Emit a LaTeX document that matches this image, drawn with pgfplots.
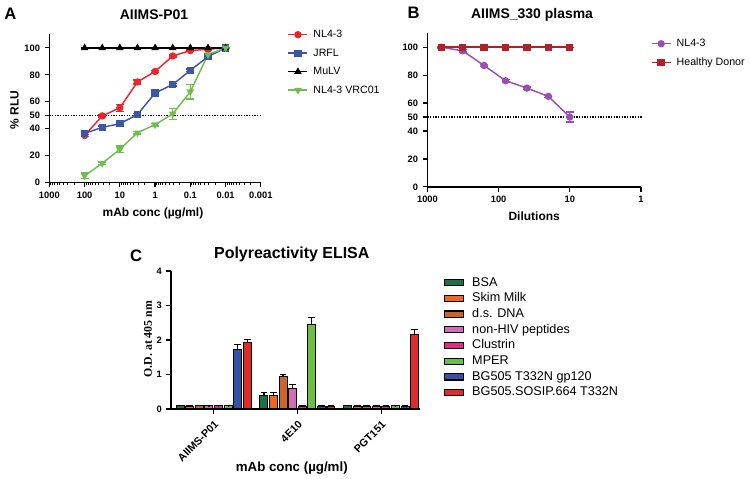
\documentclass[border=0pt]{standalone}
\usepackage{fontspec}
\setmainfont{Liberation Sans}
\newfontfamily\timesfont{Liberation Serif}
\usepackage{pgfplots}
\pgfplotsset{compat=1.18}

\definecolor{cRed}{HTML}{E8262C}
\definecolor{cBlue}{HTML}{3A57A7}
\definecolor{cGreen}{HTML}{6DBE4B}
\definecolor{cPurple}{HTML}{9A4EB0}
\definecolor{cDarkRed}{HTML}{B22028}
% bar colours
\definecolor{bBSA}{HTML}{1E7048}
\definecolor{bSkim}{HTML}{F26522}
\definecolor{bDNA}{HTML}{C8662C}
\definecolor{bPep}{HTML}{D36BB8}
\definecolor{bClu}{HTML}{E62A8A}
\definecolor{bMPER}{HTML}{6CBF45}
\definecolor{bGp}{HTML}{3453A4}
\definecolor{bSOS}{HTML}{E02B2B}

\pgfplotsset{
  panel/.style={
    scale only axis, anchor=south west, clip=false,
    axis x line=bottom, axis y line=left,
    axis line style={black, line width=1.1pt},
    x axis line style={-}, y axis line style={-},
    tick align=outside,
    every tick/.append style={black, line width=0.9pt},
    major tick length=3.5pt, minor tick length=2pt,
    /pgf/number format/assume math mode=true,
    tick label style={font=\fontsize{7}{8}\selectfont\bfseries},
    label style={font=\fontsize{9}{10}\selectfont\bfseries},
    legend cell align=left,
  },
  lineplot/.style={line width=1.1pt, mark size=2.2pt, mark options={solid},
    error bars/y dir=both, error bars/y explicit,
    error bars/error bar style={line width=1pt},
    error bars/error mark options={rotate=90, line width=1pt, mark size=3pt}},
}
% axis frame (left + bottom), drawn after the axis is finished
\newcommand\frameLB{\draw[black, line width=1.1pt] (axis description cs:0,1) -- (axis description cs:0,0) -- (axis description cs:1,0);}

\begin{document}
\begin{tikzpicture}
\path (0pt,0pt) rectangle (562.5pt,-358.5pt);

% ---------- A ----------
\begin{axis}[panel,
  at={(36pt,-137.25pt)}, width=159pt, height=111.375pt,
  xmode=log, x dir=reverse, xmin=0.001, xmax=1000, ymin=0, ymax=110,
  xtick={1000,100,10,1,0.1,0.01,0.001},
  xticklabels={1000,100,10,1,0.1,0.01,0.001},
  ytick={0,20,40,50,60,80,100},
  xlabel={mAb conc (µg/ml)}, ylabel={\% RLU},
  xlabel style={at={(axis description cs:0.49,-0.209)}, anchor=center},
  ylabel style={at={(axis description cs:-0.165,0.49)}, anchor=center},
  title={AIIMS-P01},
  every axis title/.style={at={(axis description cs:0.495,1.131)}, anchor=center, font=\fontsize{10.5}{12}\selectfont\bfseries},
  legend style={draw=none, fill=none, at={(axis description cs:1.107,1.064)}, anchor=north west,
    font=\fontsize{8}{9}\selectfont, row sep=3.6pt,
    nodes={text height=6.5pt, text depth=1.8pt, inner sep=1pt},
    /tikz/every odd column/.append style={column sep=3pt}},
  legend image code/.code={\draw[mark repeat=2,mark phase=2,#1] plot coordinates {(0cm,0cm) (0.25cm,0cm) (0.5cm,0cm)};},
  after end axis/.code={
    \frameLB
    \pgfplotsinvokeforeach{1000,100,10,1,0.1,0.01,0.001}{\draw[black, line width=0.9pt] (axis cs:##1,0) -- ++(0pt,-3.5pt);}
    \pgfplotsinvokeforeach{0.002,0.003,0.004,0.005,0.006,0.007,0.008,0.009,
      0.02,0.03,0.04,0.05,0.06,0.07,0.08,0.09,0.2,0.3,0.4,0.5,0.6,0.7,0.8,0.9,
      2,3,4,5,6,7,8,9,20,30,40,50,60,70,80,90,200,300,400,500,600,700,800,900}{\draw[black, line width=0.7pt] (axis cs:##1,0) -- ++(0pt,-2pt);}
    \pgfplotsinvokeforeach{0,20,40,50,60,80,100}{\draw[black, line width=0.9pt] (axis cs:1000,##1) -- ++(-3.5pt,0pt);}
  },
]
\addplot[black, densely dotted, line width=1pt, forget plot] coordinates {(1000,50) (0.001,50)};
\addplot[lineplot, cRed, mark=*] coordinates {
  (100,35) +- (0,0.8) (31.6,49.5) +- (0,0.8) (10,55.5) +- (0,2.5) (3.16,74.7) +- (0,1.5)
  (1,82.5) +- (0,0.8) (0.316,94) +- (0,0.8) (0.1,98) +- (0,0.5) (0.0316,99) +- (0,0.5) (0.01,100) +- (0,0.5)};
\addlegendentry{NL4-3}
\addplot[lineplot, cBlue, mark=square*] coordinates {
  (100,36.5) +- (0,1) (31.6,41) +- (0,1) (10,43.7) +- (0,1) (3.16,50.5) +- (0,1)
  (1,66.5) +- (0,1) (0.316,72.8) +- (0,1) (0.1,83.3) +- (0,1) (0.0316,93.5) +- (0,1) (0.01,100) +- (0,0.5)};
\addlegendentry{JRFL}
\addplot[lineplot, black, mark=triangle*] coordinates {
  (100,100) +- (0,0) (31.6,100) +- (0,0) (10,100) +- (0,0) (3.16,100) +- (0,0)
  (1,100) +- (0,0) (0.316,100) +- (0,0) (0.1,100) +- (0,0) (0.0316,100) +- (0,0) (0.01,100) +- (0,0)};
\addlegendentry{MuLV}
\addplot[lineplot, cGreen, mark=triangle*, mark options={rotate=180}] coordinates {
  (100,5) +- (0,2) (31.6,14.3) +- (0,1) (10,24.7) +- (0,2.5) (3.16,37) +- (0,1)
  (1,43) +- (0,1) (0.316,51) +- (0,4) (0.1,67.5) +- (0,5.5) (0.0316,95) +- (0,3) (0.01,100) +- (0,0.5)};
\addlegendentry{NL4-3 VRC01}
\node[font=\fontsize{12.5}{14}\selectfont\bfseries] at (axis description cs:-0.184,1.138) {A};
\end{axis}

% ---------- B ----------
\begin{axis}[panel,
  at={(320.25pt,-140.475pt)}, width=160.5pt, height=115.5pt,
  xmode=log, x dir=reverse, xmin=1, xmax=1000, ymin=0, ymax=110,
  xtick={1000,100,10,1}, xticklabels={1000,100,10,1}, xminorticks=false,
  ytick={0,20,40,50,60,80,100},
  xlabel={Dilutions},
  xlabel style={at={(axis description cs:0.5,-0.193)}, anchor=center},
  title={AIIMS\_330 plasma},
  every axis title/.style={at={(axis description cs:0.49,1.119)}, anchor=center, font=\fontsize{10.5}{12}\selectfont\bfseries},
  legend style={draw=none, fill=none, at={(axis description cs:1.027,0.995)}, anchor=north west,
    font=\fontsize{8}{9}\selectfont, row sep=3.6pt,
    nodes={text height=6.5pt, text depth=1.8pt, inner sep=1pt},
    /tikz/every odd column/.append style={column sep=3pt}},
  legend image code/.code={\draw[mark repeat=2,mark phase=2,#1] plot coordinates {(0cm,0cm) (0.25cm,0cm) (0.5cm,0cm)};},
  after end axis/.code={
    \frameLB
    \pgfplotsinvokeforeach{1000,100,10,1}{\draw[black, line width=0.9pt] (axis cs:##1,0) -- ++(0pt,-3.5pt);}
    \pgfplotsinvokeforeach{0,20,40,50,60,80,100}{\draw[black, line width=0.9pt] (axis cs:1000,##1) -- ++(-3.5pt,0pt);}
  },
]
\addplot[black, densely dotted, line width=1pt, forget plot] coordinates {(1000,50) (0.95,50)};
\addplot[lineplot, cPurple, mark=*] coordinates {
  (640,100) +- (0,0.5) (320,97.4) +- (0,0.8) (160,86.9) +- (0,0.8) (80,76) +- (0,1)
  (40,70.7) +- (0,0.8) (20,64.8) +- (0,0.8) (10,50) +- (0,3.5)};
\addlegendentry{NL4-3}
\addplot[lineplot, cDarkRed, mark=square*] coordinates {
  (640,100) +- (0,0) (320,100) +- (0,0) (160,100) +- (0,0) (80,100) +- (0,0)
  (40,100) +- (0,0) (20,100) +- (0,0) (10,100) +- (0,0)};
\addlegendentry{Healthy Donor}
\node[font=\fontsize{12.5}{14}\selectfont\bfseries] at (axis description cs:-0.065,1.131) {B};
\end{axis}

% ---------- C ----------
\begin{axis}[panel,
  at={(127.5pt,-307.5pt)}, width=187.5pt, height=103.725pt,
  ybar=1.2pt, bar width=6pt,
  xmin=0.49, xmax=3.47, ymin=0, ymax=4,
  xtick={1,2,3}, xticklabels={AIIMS-P01,4E10,PGT151},
  x tick label style={rotate=45, anchor=north east, font=\fontsize{8}{9}\selectfont\bfseries},
  ytick={0,1,2,3,4},
  xlabel={mAb conc (µg/ml)}, ylabel={\timesfont\bfseries O.D. at 405 nm},
  xlabel style={at={(axis description cs:0.484,-0.427)}, anchor=center, font=\fontsize{10}{11}\selectfont\bfseries},
  ylabel style={at={(axis description cs:-0.092,0.506)}, anchor=center, font=\fontsize{8.9}{10}\selectfont},
  title={Polyreactivity ELISA},
  every axis title/.style={at={(axis description cs:0.484,1.121)}, anchor=center, font=\fontsize{12}{13}\selectfont\bfseries},
  every axis plot/.append style={draw=black, line width=0.8pt,
    error bars/y dir=plus, error bars/y explicit,
    error bars/error bar style={black, line width=0.9pt},
    error bars/error mark options={rotate=90, black, line width=0.9pt, mark size=2.5pt}},
  legend style={draw=none, fill=none, at={(axis description cs:1.078,0.99)}, anchor=north west,
    font=\fontsize{9.5}{10}\selectfont, row sep=0.8pt,
    nodes={text height=7pt, text depth=2pt, inner sep=1pt},
    /tikz/every odd column/.append style={column sep=5pt}},
  legend image code/.code={\draw[#1, line width=0.9pt] (0pt,-2.3pt) rectangle (14.2pt,2.3pt);},
  after end axis/.code={
    \frameLB
    \pgfplotsinvokeforeach{1,2,3}{\draw[black, line width=0.9pt] (axis cs:##1,0) -- ++(0pt,-3.5pt);}
    \pgfplotsinvokeforeach{0,1,2,3,4}{\draw[black, line width=0.9pt] (axis cs:0.49,##1) -- ++(-3.5pt,0pt);}
  },
]
\addplot[fill=bBSA] coordinates {(1,0.1) +- (0,0.01) (2,0.39) +- (0,0.08) (3,0.1) +- (0,0.01)};
\addlegendentry{BSA}
\addplot[fill=bSkim] coordinates {(1,0.08) +- (0,0.01) (2,0.4) +- (0,0.07) (3,0.08) +- (0,0.01)};
\addlegendentry{Skim Milk}
\addplot[fill=bDNA] coordinates {(1,0.1) +- (0,0.01) (2,0.93) +- (0,0.06) (3,0.08) +- (0,0.01)};
\addlegendentry{d.s. DNA}
\addplot[fill=bPep] coordinates {(1,0.09) +- (0,0.01) (2,0.6) +- (0,0.11) (3,0.08) +- (0,0.01)};
\addlegendentry{non-HIV peptides}
\addplot[fill=bClu] coordinates {(1,0.09) +- (0,0.01) (2,0.08) +- (0,0.01) (3,0.08) +- (0,0.01)};
\addlegendentry{Clustrin}
\addplot[fill=bMPER] coordinates {(1,0.09) +- (0,0.01) (2,2.46) +- (0,0.19) (3,0.09) +- (0,0.01)};
\addlegendentry{MPER}
\addplot[fill=bGp] coordinates {(1,1.73) +- (0,0.14) (2,0.08) +- (0,0.01) (3,0.08) +- (0,0.01)};
\addlegendentry{BG505 T332N gp120}
\addplot[fill=bSOS] coordinates {(1,1.92) +- (0,0.1) (2,0.08) +- (0,0.01) (3,2.17) +- (0,0.13)};
\addlegendentry{BG505.SOSIP.664 T332N}
\node[font=\fontsize{12.5}{14}\selectfont\bfseries] at (axis description cs:-0.14,1.113) {C};
\end{axis}
\end{tikzpicture}
\end{document}
